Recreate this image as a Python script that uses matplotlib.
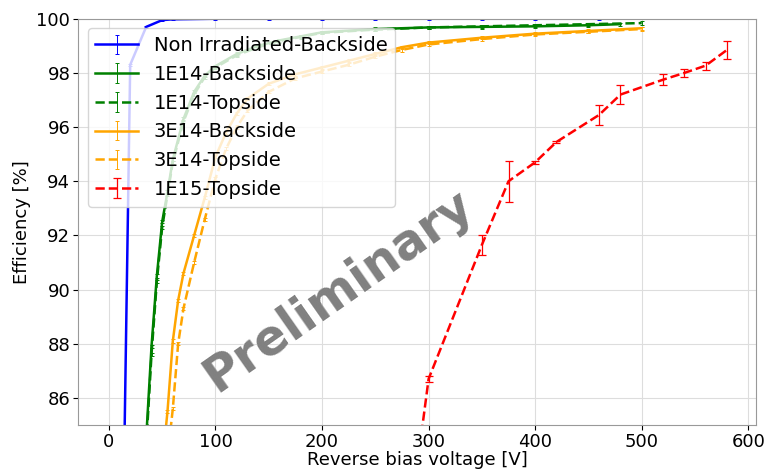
import numpy as np
import matplotlib
matplotlib.use("Agg")
import matplotlib.pyplot as plt

# Non irradiated, backside
v_nonirr = [10, 20, 35, 50, 60, 100, 150, 200, 250, 300, 350, 400, 460]
e_nonirr = [72.5, 98.3, 99.7, 99.95, 99.98, 100.0, 100.0, 100.0, 100.0, 100.0, 100.0, 100.0, 100.0]
err_nonirr = [0.03] * len(v_nonirr)

# 1E14
v_1e14_back = [35, 40, 45, 50, 55, 60, 70, 80, 90, 100, 120, 140, 160, 180, 200,
               250, 300, 350, 400, 450, 480]
e_1e14_back = [84.5, 87.9, 90.5, 92.5, 93.6, 94.8, 96.3, 97.3, 97.9, 98.25, 98.7,
               99.0, 99.2, 99.35, 99.5, 99.62, 99.68, 99.7, 99.72, 99.76, 99.8]
v_1e14_top = [35, 40, 45, 50, 55, 60, 70, 80, 90, 100, 120, 140, 160, 180, 200,
              250, 300, 350, 400, 450, 500]
e_1e14_top = [84.2, 87.6, 90.3, 92.3, 93.5, 94.7, 96.2, 97.2, 97.85, 98.2, 98.65,
              98.95, 99.18, 99.33, 99.48, 99.6, 99.68, 99.72, 99.76, 99.8, 99.84]

# 3E14
v_3e14_back = [50, 55, 60, 65, 70, 80, 90, 100, 110, 120, 130, 150, 175, 200, 225,
               250, 275, 300, 350, 400, 450, 500]
e_3e14_back = [83.5, 85.5, 88.1, 89.6, 90.6, 92.0, 93.4, 94.9, 95.8, 96.5, 97.05,
               97.6, 97.95, 98.2, 98.45, 98.7, 98.95, 99.12, 99.3, 99.45, 99.55, 99.65]
v_3e14_top = [55, 60, 65, 70, 80, 90, 100, 110, 120, 130, 150, 175, 200, 225, 250,
              275, 300, 350, 400, 450, 500]
e_3e14_top = [83.8, 85.6, 88.0, 89.3, 91.0, 92.6, 94.1, 95.2, 96.0, 96.6, 97.3,
              97.8, 98.05, 98.3, 98.6, 98.85, 99.05, 99.25, 99.42, 99.52, 99.62]

# 1E15
v_1e15_top = [290, 300, 350, 375, 400, 420, 460, 480, 520, 540, 560, 580]
e_1e15_top = [83.7, 86.7, 91.65, 94.0, 94.7, 95.45, 96.45, 97.2, 97.75, 98.0, 98.27, 98.85]
err_1e15_top = [0.1, 0.1, 0.37, 0.75, 0.05, 0.05, 0.37, 0.35, 0.2, 0.15, 0.15, 0.33]

fig = plt.figure(figsize=(7.72, 4.69), dpi=100)
ax = fig.add_axes([0.101, 0.094, 0.878, 0.866])

eb = dict(lw=1.8, capsize=1.5, elinewidth=0.7, capthick=0.7)
ax.errorbar(v_nonirr, e_nonirr, yerr=err_nonirr, color='blue',
            label='Non Irradiated-Backside', **eb)
ax.errorbar(v_1e14_back, e_1e14_back, yerr=[0.06] * len(v_1e14_back), color='green',
            label='1E14-Backside', **eb)
ax.errorbar(v_1e14_top, e_1e14_top, yerr=[0.06] * len(v_1e14_top), color='green',
            ls='--', label='1E14-Topside', **eb)
ax.errorbar(v_3e14_back, e_3e14_back, yerr=[0.06] * len(v_3e14_back), color='orange',
            label='3E14-Backside', **eb)
ax.errorbar(v_3e14_top, e_3e14_top, yerr=[0.06] * len(v_3e14_top), color='orange',
            ls='--', label='3E14-Topside', **eb)
ax.errorbar(v_1e15_top, e_1e15_top, yerr=err_1e15_top, color='red', ls='--',
            lw=1.8, capsize=3, elinewidth=0.9, capthick=0.9, label='1E15-Topside')

ax.set_xlim(-29, 607)
ax.set_ylim(85, 100)
ax.set_xticks(np.arange(0, 601, 100))
ax.set_yticks(np.arange(86, 101, 2))
ax.tick_params(labelsize=13, pad=2)
ax.grid(True, color='#dddddd', lw=0.8)
ax.set_xlabel('Reverse bias voltage [V]', fontsize=13, labelpad=0)
ax.set_ylabel('Efficiency [%]', fontsize=13)
for s in ax.spines.values():
    s.set_color('#999999')

ax.legend(loc='upper left', fontsize=14, handlelength=2.2, borderaxespad=0.5)

ax.text(0.385, 0.33, 'Preliminary', transform=ax.transAxes, rotation=35,
        fontsize=35, fontweight='bold', color='gray', ha='center', va='center')

plt.savefig('out.png', dpi=100)
